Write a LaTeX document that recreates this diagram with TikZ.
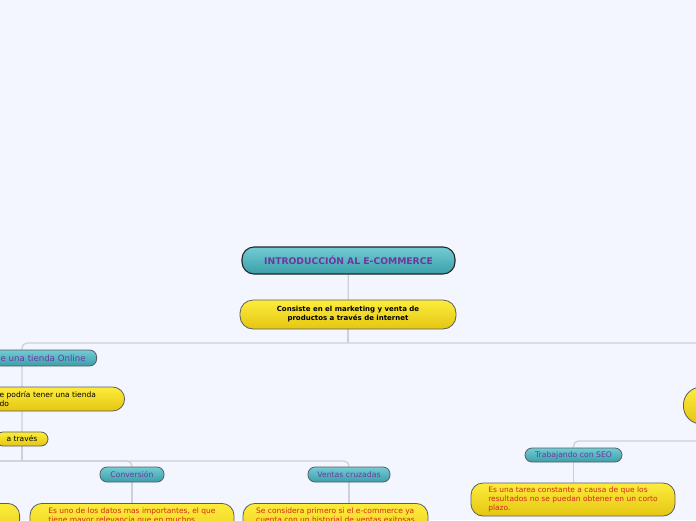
\documentclass[tikz,border=0pt]{standalone}
\usepackage{fontspec}
\setmainfont{DejaVu Sans}
\usetikzlibrary{backgrounds}
\definecolor{pagebg}{HTML}{F3F6FE}
\definecolor{tealtop}{HTML}{72CCD4}
\definecolor{tealbot}{HTML}{3B9FA9}
\definecolor{yeltop}{HTML}{FDEC3C}
\definecolor{yelbot}{HTML}{E4C612}
\definecolor{edge}{HTML}{5A5C66}
\definecolor{linkgray}{HTML}{CDD0DA}
\definecolor{topicviolet}{HTML}{6E36A0}
\definecolor{notered}{HTML}{D4281C}

\begin{document}
\begin{tikzpicture}[x=1pt,y=-1pt,
  topic/.style={draw=edge,line width=.8pt,top color=tealtop,bottom color=tealbot,
    text=topicviolet,rounded corners=7pt,inner sep=0pt,align=center,font=\fontsize{7.7}{9}\selectfont},
  note/.style={draw=edge,line width=.8pt,top color=yeltop,bottom color=yelbot,
    rounded corners=12pt,inner sep=0pt},
  link/.style={draw=linkgray,line width=1.3pt,rounded corners=5pt},
  small/.style={font=\fontsize{7.5}{9}\selectfont}]
\useasboundingbox (0,0) rectangle (696,520);

% central topic
\node[topic,minimum width=213,minimum height=27,rounded corners=12pt,line width=1.1pt,draw=black!85,
  font=\fontsize{9.2}{10}\selectfont\bfseries] (title) at (348.5,260.5) {INTRODUCCIÓN AL E-COMMERCE};
\node[note,minimum width=216,minimum height=29,rounded corners=13pt,align=center,
  font=\fontsize{7}{9}\selectfont\bfseries] (def) at (348,314.5) {Consiste en el marketing y venta de\\productos a través de internet};

% left branch
\node[topic,anchor=east,minimum height=16,text width=96,align=right,inner xsep=11pt,
  font=\fontsize{8.6}{9}\selectfont] (tienda) at (97,358) {e una tienda Online};
\node[note,anchor=east,minimum height=24,text width=111,align=left,inner xsep=14pt,small] (podria) at (125,399) {e podría tener una tienda\\do};
\node[note,minimum width=52,minimum height=14,rounded corners=7pt,small] (atraves) at (22,439) {a través};

\node[topic,minimum width=64,minimum height=15] (conv) at (132,474.5) {Conversión};
\node[note,anchor=north,minimum width=204,inner ysep=4.5pt,align=left,text=notered,small,text depth=24pt] (convtxt) at (132,503)
  {Es uno de los datos mas importantes, el que\\tiene mayor relevancia que en muchos};
\node[topic,minimum width=82,minimum height=15] (ventas) at (349,474.5) {Ventas cruzadas};
\node[note,anchor=north,minimum width=185,inner ysep=4.5pt,align=left,text=notered,small,text depth=24pt] (ventastxt) at (335.5,503)
  {Se considera primero si el e-commerce ya\\cuenta con un historial de ventas exitosas};
\node[note,anchor=north east,minimum width=60,minimum height=40] (leftnote) at (20,503) {};

% right branch
\node[note,anchor=west,minimum width=60,minimum height=37,rounded corners=18pt] (rightnote) at (683,405.5) {};
\node[topic,minimum width=97,minimum height=14] (seo) at (573.5,455) {Trabajando con SEO};
\node[note,minimum width=204,minimum height=33,inner ysep=3pt,align=left,text=notered,small] (seotxt) at (573,499.5)
  {Es una tarea constante a causa de que los\\resultados no se puedan obtener en un corto\\plazo.};

\coordinate (trunkL) at (22,343);
\coordinate (trunkR) at (720,343);
\coordinate (busL) at (-10,461);
\coordinate (seoR) at (720,441);

\begin{scope}[on background layer]
\fill[pagebg] (0,0) rectangle (696,520);
\draw[link] (title) -- (def);
\draw[link] (def.south) -- (def.south |- trunkL);
\draw[link] (trunkR) -| (atraves.north);
\draw[link] (atraves.south) -- (atraves.south |- busL);
\draw[link] (busL) -| (conv.north);
\draw[link] (busL) -| (ventas.north);
\draw[link] (conv.south) -- (conv.south |- convtxt.north);
\draw[link] (ventas.south) -- (ventas.south |- ventastxt.north);
\draw[link] (seoR) -| (seo.north);
\draw[link] (seo.south) -- (seo.south |- seotxt.north);
\end{scope}
\end{tikzpicture}
\end{document}
